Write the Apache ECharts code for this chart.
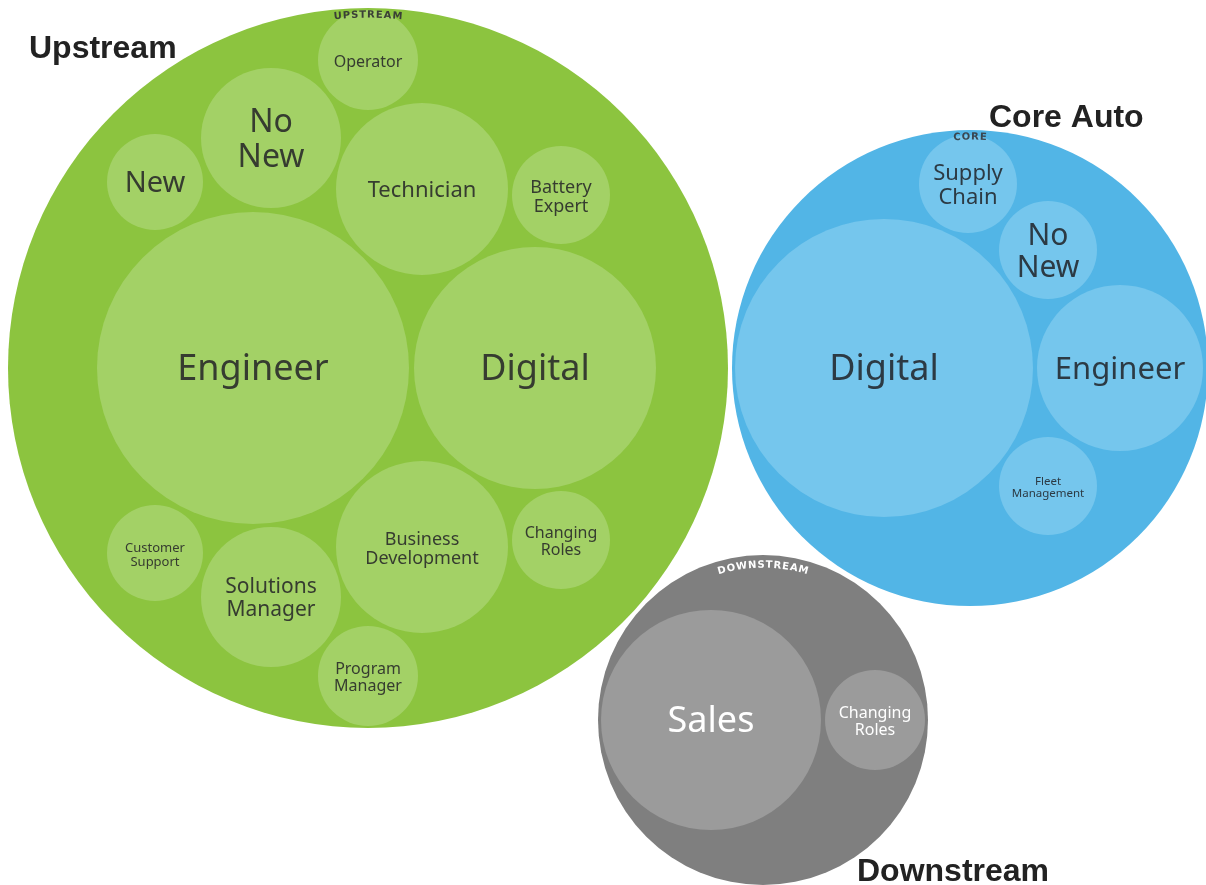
<!DOCTYPE html>
<html lang="en">
<head>
<meta charset="UTF-8">
<title>Roles by segment</title>
<script src="https://cdn.jsdelivr.net/npm/echarts@6/dist/echarts.min.js"></script>
<style>
  html, body { margin: 0; padding: 0; background: #fff; }
  #chart { width: 1206px; height: 885px; }
</style>
</head>
<body>
<div id="chart"></div>
<script>
// outer circles (one per segment), centre and radius in chart units
const groupNames = ['Upstream', 'Core Auto', 'Downstream'];
const groupTags = ['UPSTREAM', 'CORE', 'DOWNSTREAM'];
const groupX = [368, 970, 763];
const groupY = [368, 368, 720];
const groupR = [360, 238, 165];

// roles inside Upstream
const upLabels = ['Engineer', 'Digital', 'Technician', 'No\nNew', 'New', 'Operator', 'Battery\nExpert',
                  'Business\nDevelopment', 'Changing\nRoles', 'Customer\nSupport', 'Solutions\nManager', 'Program\nManager'];
const upX = [253, 535, 422, 271, 155, 368, 561, 422, 561, 155, 271, 368];
const upY = [368, 368, 189, 138, 182, 60, 195, 547, 540, 553, 597, 676];
const upR = [156, 121, 86, 70, 48, 50, 49, 86, 49, 48, 70, 50];

// roles inside Core Auto
const coreLabels = ['Digital', 'Engineer', 'Supply\nChain', 'No\nNew', 'Fleet\nManagement'];
const coreX = [884, 1120, 968, 1048, 1048];
const coreY = [368, 368, 184, 250, 486];
const coreR = [149, 83, 49, 49, 49];

// roles inside Downstream
const downLabels = ['Sales', 'Changing\nRoles'];
const downX = [711, 875];
const downY = [720, 720];
const downR = [110, 50];

// styling
const outerColors = ['#8cc43f', '#52b5e6', '#7f7f7f'];
const innerColors = ['#a3d166', '#75c6ed', '#9b9b9b'];
const textColors = ['#363c30', '#2c3a44', '#ffffff'];
const tagColors = ['#3a3f36', '#3a4650', '#ffffff'];
const tagInset = [7, 7, 10];
const fontSizes = {
  0: [36, 36, 22, 32, 29, 16, 18, 18, 16, 13, 21, 16],
  1: [36, 31, 22, 30, 11.5],
  2: [36, 16]
};
const FONT = '"Noto Sans", "Open Sans", sans-serif';
const TITLE_FONT = 'bold 32px "Liberation Sans", Arial, sans-serif';

const nodes = [];
groupNames.forEach((name, g) => {
  nodes.push({ level: 0, group: g, x: groupX[g], y: groupY[g], r: groupR[g], label: groupTags[g] });
});
[[upLabels, upX, upY, upR], [coreLabels, coreX, coreY, coreR], [downLabels, downX, downY, downR]]
  .forEach(([labels, xs, ys, rs], g) => {
    labels.forEach((lab, i) => {
      nodes.push({ level: 1, group: g, idx: i, x: xs[i], y: ys[i], r: rs[i], label: lab });
    });
  });

const measureCtx = document.createElement('canvas').getContext('2d');

// segment tag written along the top of the outer circle
function arcLetters(text, cx, cy, rad, font, color) {
  measureCtx.font = font;
  const spacing = 1;
  const widths = text.split('').map(ch => measureCtx.measureText(ch).width + spacing);
  const total = widths.reduce((a, b) => a + b, 0) - spacing;
  let s = -total / 2;
  const out = [];
  text.split('').forEach((ch, i) => {
    const mid = s + widths[i] / 2 - spacing / 2;
    const a = -Math.PI / 2 + mid / rad;
    out.push({
      type: 'text',
      z2: 100,
      x: cx + rad * Math.cos(a),
      y: cy + rad * Math.sin(a),
      rotation: -(mid / rad),
      style: { text: ch, font: font, fill: color, align: 'center', verticalAlign: 'middle' }
    });
    s += widths[i];
  });
  return out;
}

function renderItem(params, api) {
  const n = nodes[params.dataIndex];
  const c = api.coord([n.x, n.y]);
  const rr = api.size([n.r, n.r])[0];
  if (n.level === 0) {
    const inset = api.size([tagInset[n.group], 0])[0];
    return {
      type: 'group',
      children: [
        { type: 'circle', shape: { cx: c[0], cy: c[1], r: rr }, style: { fill: outerColors[n.group] } }
      ].concat(arcLetters(n.label, c[0], c[1], rr - inset, 'bold 10px "DejaVu Sans", sans-serif', tagColors[n.group]))
    };
  }
  const fs = fontSizes[n.group][n.idx];
  return {
    type: 'group',
    children: [
      { type: 'circle', shape: { cx: c[0], cy: c[1], r: rr }, style: { fill: innerColors[n.group] } },
      {
        type: 'text', x: c[0], y: c[1] + 2,
        style: {
          text: n.label, fill: textColors[n.group], align: 'center', verticalAlign: 'middle',
          font: fs + 'px ' + FONT, lineHeight: Math.round(fs * 1.08)
        }
      }
    ]
  };
}

const chart = echarts.init(document.getElementById('chart'));
chart.setOption({
  animation: false,
  grid: { left: 0, right: 0, top: 0, bottom: 0 },
  xAxis: { type: 'value', min: 0, max: 1206, show: false },
  yAxis: { type: 'value', min: 0, max: 885, inverse: true, show: false },
  graphic: [
    { type: 'text', x: 29, y: 49, style: { text: groupNames[0], font: TITLE_FONT, fill: '#222', verticalAlign: 'middle' } },
    { type: 'text', x: 989, y: 118, style: { text: groupNames[1], font: TITLE_FONT, fill: '#222', verticalAlign: 'middle' } },
    { type: 'text', x: 857, y: 872, style: { text: groupNames[2], font: TITLE_FONT, fill: '#222', verticalAlign: 'middle' } }
  ],
  series: [{
    type: 'custom',
    coordinateSystem: 'cartesian2d',
    renderItem: renderItem,
    data: nodes.map(n => [n.x, n.y]),
    clip: false,
    silent: true
  }]
});
</script>
</body>
</html>
